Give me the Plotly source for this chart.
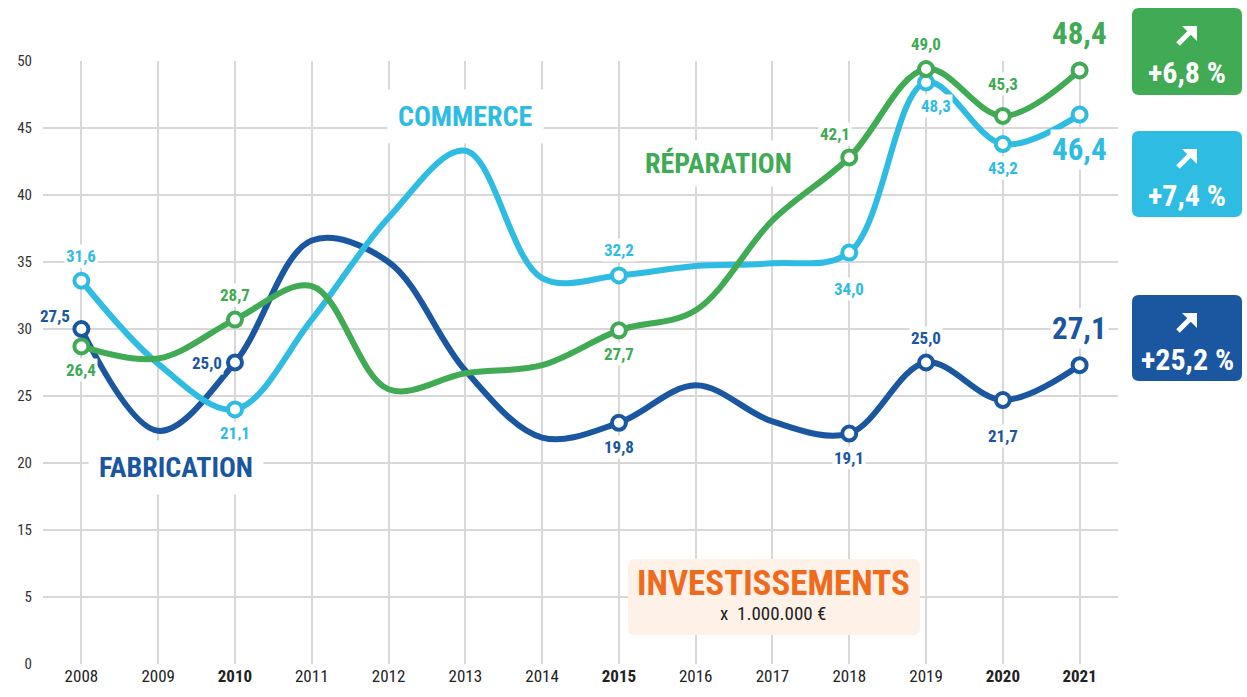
import plotly.graph_objects as go

# ---------------- data ----------------
YEARS = [2008, 2009, 2010, 2011, 2012, 2013, 2014, 2015, 2016, 2017, 2018, 2019, 2020, 2021]
BOLD_YEARS = [2010, 2015, 2020, 2021]

# positions (in plot units of the equally spaced grid)
FABRICATION = [25.0, 17.4, 22.5, 31.6, 30.0, 21.9, 16.9, 18.0, 20.8, 18.1, 17.2, 22.5, 19.7, 22.3]
COMMERCE    = [28.6, 22.4, 19.0, 25.7, 33.3, 38.3, 28.8, 29.0, 29.7, 29.9, 30.7, 43.4, 38.8, 41.0]
REPARATION  = [23.7, 22.8, 25.7, 28.2, 20.5, 21.7, 22.3, 24.9, 26.4, 33.1, 37.8, 44.4, 40.9, 44.3]

MARKER_YEARS = [2008, 2010, 2015, 2018, 2019, 2020, 2021]

# value labels: year -> (text, placement)
FAB_LABELS = {2008: ("27,5", "left_up"), 2010: ("25,0", "left"), 2015: ("19,8", "below"),
              2018: ("19,1", "below"), 2019: ("25,0", "above"), 2020: ("21,7", "below_far"),
              2021: ("27,1", "big_above")}
COM_LABELS = {2008: ("31,6", "above"), 2010: ("21,1", "below"), 2015: ("32,2", "above"),
              2018: ("34,0", "below_far"), 2019: ("48,3", "below_right"), 2020: ("43,2", "below"),
              2021: ("46,4", "big_below")}
REP_LABELS = {2008: ("26,4", "below"), 2010: ("28,7", "above"), 2015: ("27,7", "below"),
              2018: ("42,1", "above_left"), 2019: ("49,0", "above"), 2020: ("45,3", "above_far"),
              2021: ("48,4", "big_above")}

Y_TICK_POS = [0, 5, 10, 15, 20, 25, 30, 35, 40, 45]
Y_TICK_TEXT = ["0", "5", "15", "20", "25", "30", "35", "40", "45", "50"]

SERIES_NAMES = ["FABRICATION", "COMMERCE", "RÉPARATION"]
CHANGES = ["+25,2 %", "+7,4 %", "+6,8 %"]

# ---------------- style ----------------
DARK = "#1B56A0"
LIGHT = "#2FBCE3"
GREEN = "#40AA54"
ORANGE = "#EE6B1E"
GRID = "#D8D8D8"
FONT = "Roboto Condensed, Liberation Sans Narrow, DejaVu Sans Condensed, Roboto, sans-serif"

W, H = 1247, 697
ML, MR, MT, MB = 43, W - 1118, 61, H - 664


def px(x):
    return (x - ML) / (W - ML - MR)


def py(y):
    return (H - MB - y) / (H - MT - MB)


fig = go.Figure()

series = [
    (FABRICATION, DARK, FAB_LABELS),
    (COMMERCE, LIGHT, COM_LABELS),
    (REPARATION, GREEN, REP_LABELS),
]

for vals, col, _ in series:
    fig.add_trace(go.Scatter(
        x=YEARS, y=vals, mode="lines",
        line=dict(color=col, width=6, shape="spline", smoothing=1.0),
        hoverinfo="skip", showlegend=False))

for vals, col, _ in series:
    mx = [y for y in YEARS if y in MARKER_YEARS]
    my = [v for y, v in zip(YEARS, vals) if y in MARKER_YEARS]
    fig.add_trace(go.Scatter(
        x=mx, y=my, mode="markers",
        marker=dict(size=14, color="white", line=dict(color=col, width=4)),
        hoverinfo="skip", showlegend=False, cliponaxis=False))

PLACE = {
    "above": (0, 25, "center", 17),
    "above_far": (0, 32, "center", 17),
    "above_left": (-14, 23, "center", 17),
    "below": (0, -24, "center", 17),
    "below_far": (0, -36, "center", 17),
    "below_right": (10, -24, "center", 17),
    "left": (-11, 0, "right", 17),
    "left_up": (-9, 13, "right", 17),
    "big_above": (0, 37, "center", 31),
    "big_below": (0, -35, "center", 31),
}

annotations = []
for vals, col, labels in series:
    for yr, (txt, where) in labels.items():
        v = vals[YEARS.index(yr)]
        xs, ys, xa, fs = PLACE[where]
        annotations.append(dict(
            x=yr, y=v, xref="x", yref="y", text=f"<b>{txt}</b>", showarrow=False,
            xanchor=xa, yanchor="middle", xshift=xs, yshift=ys,
            font=dict(family=FONT, size=fs, color=col),
            bgcolor="white", borderpad=1))

# series names
name_pos = [(176, 468, DARK, 10), (465, 116, LIGHT, 10), (718, 163, GREEN, 6)]
for name, (x0, y0, col, pad) in zip(SERIES_NAMES, name_pos):
    annotations.append(dict(
        x=px(x0), y=py(y0), xref="paper", yref="paper", text=f"<b>{name}</b>",
        showarrow=False, xanchor="center", yanchor="middle",
        font=dict(family=FONT, size=28, color=col), bgcolor="white", borderpad=pad))


def P(x, y):
    return f"{px(x):.5f},{py(y):.5f}"


def rounded_rect(x0, y0, x1, y1, r):
    return (f"M {P(x0 + r, y0)} L {P(x1 - r, y0)} Q {P(x1, y0)} {P(x1, y0 + r)} "
            f"L {P(x1, y1 - r)} Q {P(x1, y1)} {P(x1 - r, y1)} "
            f"L {P(x0 + r, y1)} Q {P(x0, y1)} {P(x0, y1 - r)} "
            f"L {P(x0, y0 + r)} Q {P(x0, y0)} {P(x0 + r, y0)} Z")


shapes = []
boxes = [(295, 381, DARK), (131, 217, LIGHT), (8, 95, GREEN)]
for chg, (t, b, col) in zip(CHANGES, boxes):
    shapes.append(dict(type="path", path=rounded_rect(1132, t, 1242, b, 7),
                       xref="paper", yref="paper", fillcolor=col, line=dict(width=0), layer="above"))
    # arrow: shaft + head
    shapes.append(dict(type="line", x0=px(1178), y0=py(t + 36), x1=px(1191), y1=py(t + 23),
                       xref="paper", yref="paper", line=dict(color="white", width=5), layer="above"))
    shapes.append(dict(type="path",
                       path=f"M {P(1182, t + 18)} L {P(1197, t + 18)} L {P(1197, t + 33)} Z",
                       xref="paper", yref="paper", fillcolor="white", line=dict(width=0), layer="above"))
    annotations.append(dict(x=px(1187), y=py(t + 64), xref="paper", yref="paper",
                            text=f"<b>{chg}</b>", showarrow=False, xanchor="center", yanchor="middle",
                            font=dict(family=FONT, size=30, color="white")))

# investissements box
shapes.append(dict(type="path", path=rounded_rect(628, 559, 920, 635, 7),
                   xref="paper", yref="paper", fillcolor="#FDF1E8", line=dict(width=0), layer="above"))
annotations.append(dict(x=px(773), y=py(583), xref="paper", yref="paper",
                        text="<b>INVESTISSEMENTS</b>", showarrow=False, xanchor="center", yanchor="middle",
                        font=dict(family=FONT, size=35, color=ORANGE)))
annotations.append(dict(x=px(773), y=py(613), xref="paper", yref="paper",
                        text="x  1.000.000 €", showarrow=False, xanchor="center", yanchor="middle",
                        font=dict(family=FONT, size=19, color="#222222")))

fig.update_layout(
    width=W, height=H,
    margin=dict(l=ML, r=MR, t=MT, b=MB),
    paper_bgcolor="white", plot_bgcolor="white",
    shapes=shapes, annotations=annotations,
    xaxis=dict(range=[2007.5, 2021.5], tickmode="array", tickvals=YEARS,
               ticktext=[f"<b>{y}</b>" if y in BOLD_YEARS else str(y) for y in YEARS],
               showgrid=True, gridcolor=GRID, gridwidth=1.5, zeroline=False, showline=False,
               ticks="", tickfont=dict(family=FONT, size=17, color="#222222"), fixedrange=True),
    yaxis=dict(range=[0, 45], tickmode="array", tickvals=Y_TICK_POS, ticktext=Y_TICK_TEXT,
               showgrid=True, gridcolor=GRID, gridwidth=1.5, zeroline=False, showline=False,
               ticks="", ticklabelstandoff=10,
               tickfont=dict(family=FONT, size=15, color="#333333"), fixedrange=True),
)

fig.write_html("out.html", config={"displayModeBar": False},
               post_script="document.body.style.margin='0';")
